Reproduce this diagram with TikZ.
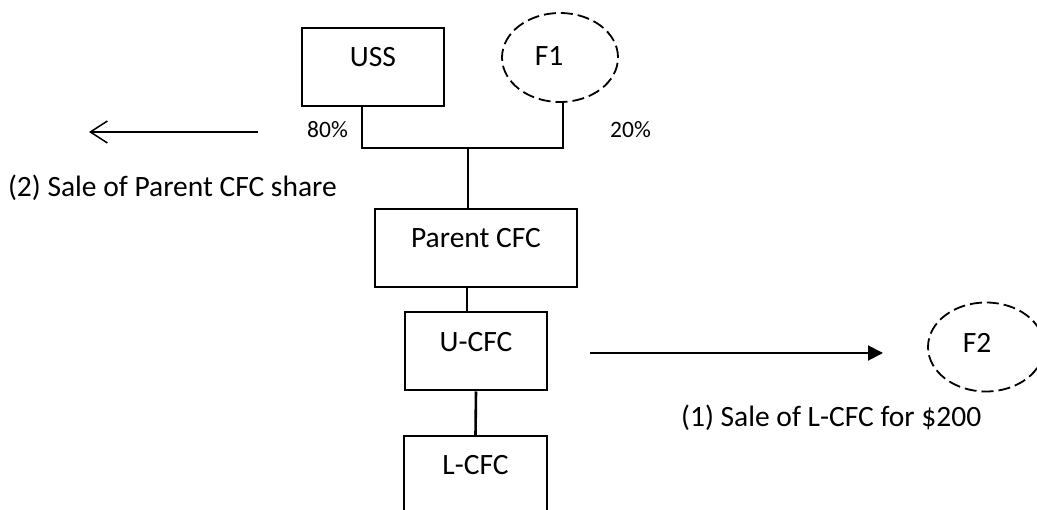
\documentclass[tikz,border=0pt]{standalone}
\usepackage{fontspec}
\setmainfont{Carlito}
\usetikzlibrary{arrows.meta,shapes.geometric}
\begin{document}
\begin{tikzpicture}[x=1pt,y=-1pt,
  entity/.style={draw,line width=2pt,inner xsep=0pt,inner ysep=0pt,
    text height=39pt,text depth=39pt,font=\fontsize{29.5}{31}\selectfont},
  foreign/.style={draw,ellipse,line width=1.8pt,dash pattern=on 12pt off 5pt,
    inner sep=0pt,minimum width=116pt,minimum height=89pt},
  wire/.style={line width=2pt},
  caption/.style={inner sep=0pt,font=\fontsize{29.5}{31}\selectfont},
  share/.style={inner sep=0pt,font=\fontsize{23.5}{25}\selectfont}]
  % page frame
  \useasboundingbox (0,0) rectangle (1037,510);
  \fill[white] (0,0) rectangle (1037,510);
  \clip (0,0) rectangle (1037,510);

  % owners
  \node[entity,minimum width=142pt] (uss) at (373,67) {USS};
  \node[foreign] (f1) at (560,57.5) {};
  \node[caption,anchor=base] (f1t) at (549,66) {F1};

  % chain of controlled foreign corporations
  \node[entity,minimum width=202pt] (parent) at (476,248) {Parent CFC};
  \node[entity,minimum width=142pt] (ucfc) at (476,351.5) {U-CFC};
  \node[entity,minimum width=143pt] (lcfc) at (475.5,475) {L-CFC};

  % buyer of L-CFC
  \node[foreign] (f2) at (986,347) {};
  \node[caption,anchor=base] (f2t) at (977,353) {F2};

  % ownership lines
  \coordinate (jn) at (468,148);
  \draw[wire] ([xshift=-11pt]uss.south) |- ([xshift=3pt]f1.south |- jn) -- ([xshift=3pt]f1.south);
  \draw[wire] (jn) -- (jn |- parent.north);
  \draw[wire] ([xshift=-9pt]parent.south) -- ([xshift=-9pt]parent.south |- ucfc.north);
  \draw[wire,line width=2.6pt] (ucfc.south) -- (lcfc.north);

  % percentages
  \node[share,anchor=base west] (p80) at (307,138) {80\%};
  \node[share,anchor=base west] (p20) at (610,138) {20\%};

  % transactions
  \coordinate (sellA) at (258,132);
  \coordinate (sellB) at (89,132);
  \draw[wire,-{Straight Barb[length=17pt,width=22pt,line width=1.5pt]}] (sellA) -- (sellB);
  \node[caption,anchor=base east] (sell) at (337,197) {(2) Sale of Parent CFC share};

  \coordinate (saleA) at (590,353);
  \coordinate (saleB) at (883,353);
  \draw[wire,-{Triangle[length=15pt,width=15pt]}] (saleA) -- (saleB);
  \node[caption,anchor=base west] (sale) at (681,427) {(1) Sale of L-CFC for \$200};
\end{tikzpicture}
\end{document}
